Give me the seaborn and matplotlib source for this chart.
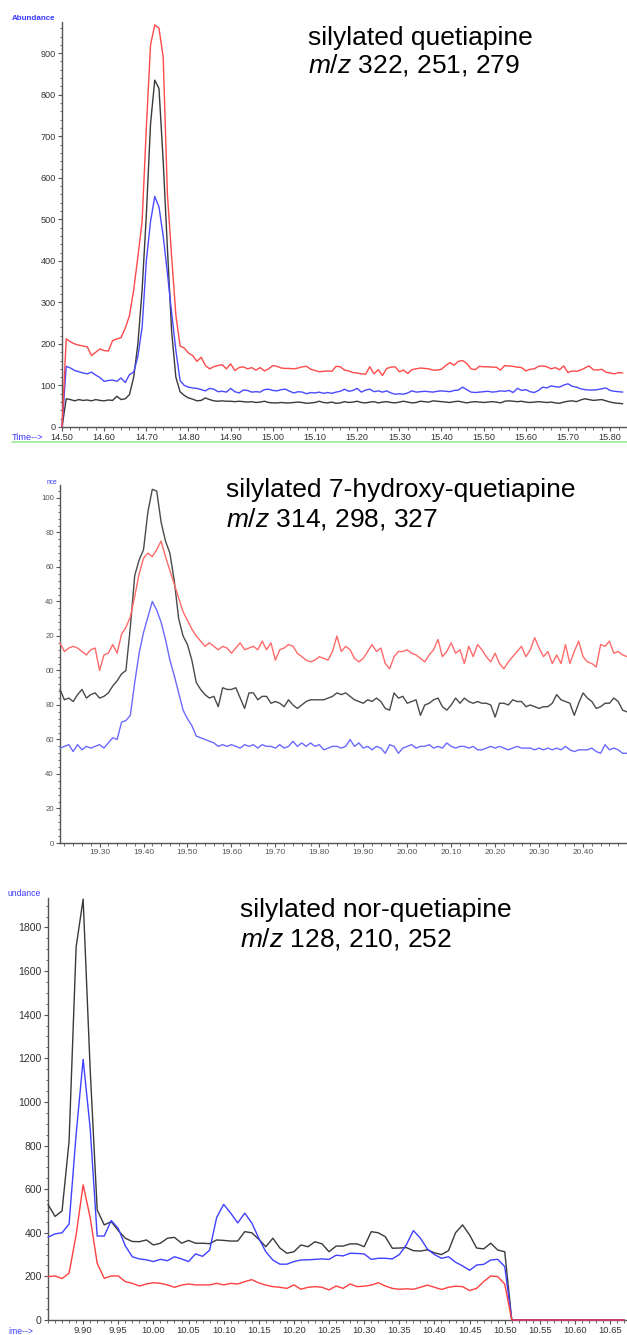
import numpy as np
import pandas as pd
import matplotlib.pyplot as plt
import matplotlib.ticker as mticker
from matplotlib.lines import Line2D
import seaborn as sns

# scans are 0.01 min apart; each list starts at the *_START time

# silylated quetiapine, m/z 322, 251, 279
Q_START = 14.50
q_red = [
    0, 212, 205, 200, 197, 195, 193, 172, 180, 188,
    184, 183, 208, 212, 215, 238, 268, 330, 410, 495,
    720, 920, 968, 960, 890, 560, 410, 270, 195, 190,
    178, 172, 158, 168, 148, 140, 145, 148, 150, 140,
    152, 136, 143, 145, 140, 143, 137, 143, 135, 140,
    148, 146, 142, 141, 141, 140, 142, 145, 146, 139,
    136, 133, 134, 135, 134, 146, 145, 137, 135, 131,
    130, 128, 127, 145, 128, 138, 124, 141, 144, 145,
    133, 137, 129, 138, 140, 142, 141, 140, 137, 137,
    139, 148, 155, 149, 158, 160, 153, 140, 138, 146,
    145, 145, 144, 144, 137, 148, 147, 146, 144, 143,
    135, 139, 140, 146, 147, 145, 140, 143, 138, 147,
    131, 135, 134, 137, 142, 147, 138, 137, 139, 132,
    130, 128, 131, 130,
]
q_blue = [
    0, 146, 142, 136, 133, 130, 128, 132, 125, 119,
    110, 112, 113, 110, 118, 107, 126, 132, 170, 240,
    400, 495, 555, 530, 460, 370, 275, 185, 112, 100,
    96, 94, 93, 90, 87, 93, 91, 85, 86, 84,
    93, 85, 82, 89, 88, 84, 85, 84, 90, 91,
    88, 87, 90, 91, 86, 82, 85, 84, 80, 83,
    82, 84, 81, 83, 81, 84, 86, 91, 86, 88,
    93, 84, 89, 91, 85, 87, 84, 87, 82, 79,
    80, 79, 82, 87, 84, 85, 86, 85, 84, 86,
    87, 86, 85, 88, 89, 96, 90, 84, 83, 84,
    85, 86, 84, 85, 87, 86, 88, 83, 93, 88,
    90, 85, 83, 88, 96, 94, 99, 97, 96, 101,
    104, 98, 96, 92, 90, 89, 89, 90, 92, 94,
    88, 86, 85, 84,
]
q_black = [
    0, 68, 66, 63, 66, 64, 65, 63, 66, 64,
    63, 65, 64, 74, 66, 68, 78, 120, 200, 330,
    510, 730, 835, 815, 640, 430, 230, 120, 85, 76,
    70, 67, 63, 64, 70, 66, 63, 62, 63, 62,
    62, 61, 62, 61, 60, 61, 59, 60, 62, 59,
    58, 58, 59, 58, 58, 59, 60, 59, 57, 58,
    59, 62, 59, 58, 60, 57, 58, 61, 59, 60,
    62, 59, 58, 60, 61, 58, 60, 61, 59, 58,
    60, 62, 60, 58, 59, 62, 61, 60, 63, 62,
    61, 60, 59, 61, 62, 60, 58, 60, 61, 60,
    59, 60, 61, 60, 58, 62, 63, 62, 61, 62,
    60, 59, 60, 61, 60, 59, 60, 58, 57, 60,
    62, 63, 61, 65, 68, 66, 64, 65, 66, 63,
    60, 58, 57, 56,
]

# silylated 7-hydroxy-quetiapine, m/z 314, 298, 327
H_START = 19.21
h_red = [
    116, 111, 113, 114, 113, 111, 109, 112, 113, 100,
    109, 110, 115, 110, 121, 125, 131, 143, 156, 165,
    168, 166, 170, 175, 166, 158, 150, 142, 134, 129,
    124, 120, 117, 114, 116, 114, 112, 114, 113, 110,
    113, 116, 112, 113, 114, 112, 117, 112, 116, 106,
    112, 113, 115, 114, 110, 108, 106, 105, 106, 108,
    107, 106, 111, 120, 111, 114, 112, 107, 105, 107,
    111, 115, 111, 113, 104, 101, 108, 111, 111, 112,
    110, 109, 107, 105, 109, 112, 118, 108, 111, 116,
    110, 112, 104, 114, 108, 115, 112, 108, 105, 110,
    104, 101, 105, 108, 111, 114, 108, 112, 119, 113,
    108, 111, 104, 109, 104, 115, 104, 111, 117, 108,
    105, 104, 102, 115, 114, 117, 110, 111, 109, 108,
]
h_black = [
    89, 83, 84, 82, 86, 89, 84, 86, 87, 84,
    85, 87, 91, 94, 98, 100, 125, 155, 164, 170,
    192, 205, 204, 186, 175, 168, 152, 130, 120, 115,
    106, 93, 89, 86, 84, 85, 79, 90, 89, 89,
    90, 84, 78, 87, 87, 83, 85, 85, 81, 82,
    81, 79, 83, 80, 78, 80, 82, 83, 83, 83,
    83, 84, 85, 87, 86, 87, 85, 83, 82, 81,
    83, 82, 84, 82, 78, 77, 87, 84, 85, 81,
    82, 83, 74, 80, 81, 83, 84, 79, 77, 80,
    84, 81, 84, 82, 81, 82, 81, 81, 80, 73,
    81, 81, 80, 83, 82, 82, 79, 80, 79, 78,
    79, 79, 81, 86, 83, 82, 81, 74, 81, 87,
    84, 82, 78, 79, 81, 81, 84, 82, 77, 76,
]
h_blue = [
    55, 56, 57, 53, 57, 54, 56, 55, 56, 57,
    55, 58, 61, 60, 70, 71, 74, 93, 110, 122,
    131, 140, 135, 128, 118, 106, 97, 87, 77, 72,
    68, 62, 61, 60, 59, 58, 56, 57, 56, 57,
    56, 55, 57, 56, 57, 55, 57, 56, 56, 55,
    57, 55, 56, 59, 56, 58, 56, 58, 56, 57,
    54, 55, 56, 56, 55, 56, 60, 56, 58, 55,
    56, 54, 56, 55, 52, 57, 56, 52, 55, 56,
    57, 55, 56, 56, 57, 55, 56, 55, 58, 56,
    55, 56, 56, 55, 56, 54, 54, 55, 56, 55,
    56, 55, 54, 55, 56, 55, 55, 55, 54, 55,
    54, 55, 54, 55, 54, 56, 54, 53, 54, 54,
    54, 55, 53, 52, 57, 54, 55, 54, 52, 52,
]
h_ylabels = ["0", "20", "40", "60", "80", "00", "20", "40", "60", "80", "100"]

# silylated nor-quetiapine, m/z 128, 210, 252
N_START = 9.85
n_black = [
    530, 475, 500, 820, 1710, 1930, 1150, 505, 436, 451,
    410, 375, 360, 359, 367, 344, 352, 375, 379, 352,
    365, 352, 352, 350, 367, 365, 362, 362, 405, 400,
    370, 336, 375, 330, 306, 313, 344, 336, 359, 349,
    313, 339, 339, 349, 349, 336, 405, 400, 382, 329,
    330, 332, 318, 316, 322, 308, 300, 318, 400, 436,
    390, 330, 326, 352, 321, 313, 0, 0, 0, 0,
    0, 0, 0, 0, 0, 0, 0, 0, 0, 0,
    0, 0, 0,
]
n_blue = [
    380, 395, 400, 440, 850, 1195, 880, 385, 385, 456,
    420, 340, 290, 280, 276, 268, 278, 272, 290, 280,
    268, 303, 292, 320, 470, 530, 490, 445, 490, 445,
    375, 313, 275, 256, 256, 268, 275, 276, 278, 280,
    278, 297, 294, 306, 305, 303, 278, 283, 283, 280,
    300, 345, 410, 375, 325, 300, 283, 290, 265, 248,
    228, 252, 255, 275, 278, 245, 0, 0, 0, 0,
    0, 0, 0, 0, 0, 0, 0, 0, 0, 0,
    0, 0, 0,
]
n_red = [
    199, 202, 190, 215, 390, 620, 470, 260, 191, 202,
    202, 176, 168, 156, 165, 171, 168, 161, 150, 160,
    165, 161, 161, 161, 168, 161, 168, 165, 176, 185,
    170, 160, 153, 150, 145, 161, 141, 150, 153, 150,
    138, 156, 145, 165, 153, 155, 160, 171, 156, 145,
    141, 143, 141, 150, 160, 150, 140, 150, 155, 153,
    135, 145, 176, 202, 199, 165, 0, 0, 0, 0,
    0, 0, 0, 0, 0, 0, 0, 0, 0, 0,
    0, 0, 0,
]

W, H = 627, 1335
FONT = "Liberation Sans"
LABEL_BLUE = "#3a3aff"


def to_frame(start, series):
    parts = []
    for ion, vals in series.items():
        t = np.round(start + 0.01 * np.arange(len(vals)), 3)
        parts.append(pd.DataFrame({"time": t, "abundance": vals, "ion": ion}))
    return pd.concat(parts, ignore_index=True)


def px_axes(fig, left, top, right, bottom):
    return fig.add_axes([left / W, 1 - bottom / H, (right - left) / W, (bottom - top) / H])


def draw_panel(ax, df, palette, xlim, ylim, xticks, yticks, minor_x, minor_y,
               xsize, ysize, tickcolor="#333333", lw=1.0):
    sns.lineplot(data=df, x="time", y="abundance", hue="ion",
                 hue_order=["black", "blue", "red"], palette=palette,
                 estimator=None, sort=False, legend=False, linewidth=lw, ax=ax)
    for ln in ax.lines:
        ln.set_clip_on(False)
        ln.set_zorder(3)
    ax.set_xlim(*xlim)
    ax.set_ylim(*ylim)
    ax.set_xticks(xticks)
    ax.set_xticklabels([f"{v:.2f}" for v in xticks])
    ax.set_yticks(yticks)
    ax.xaxis.set_minor_locator(mticker.AutoMinorLocator(minor_x))
    ax.yaxis.set_minor_locator(mticker.AutoMinorLocator(minor_y))
    ax.set_xlabel("")
    ax.set_ylabel("")
    sns.despine(ax=ax)
    for s in ("left", "bottom"):
        ax.spines[s].set_color("#555555")
        ax.spines[s].set_linewidth(1.0)
    ax.tick_params(axis="both", which="major", length=3, width=0.8,
                   color="#555555", labelcolor=tickcolor, pad=1.5)
    ax.tick_params(axis="both", which="minor", length=1.8, width=0.6, color="#555555")
    ax.tick_params(axis="x", labelsize=xsize)
    ax.tick_params(axis="y", labelsize=ysize)
    ax.set_facecolor("white")


def main():
    sns.set_theme(style="ticks")
    plt.rcParams["font.family"] = [FONT, "DejaVu Sans"]
    plt.rcParams["mathtext.fontset"] = "custom"
    plt.rcParams["mathtext.rm"] = FONT
    plt.rcParams["mathtext.it"] = FONT + ":italic"

    fig = plt.figure(figsize=(W / 100, H / 100), dpi=100)
    fig.patch.set_facecolor("white")

    # top panel
    ax1 = px_axes(fig, 62, 22, 627, 427)
    df1 = to_frame(Q_START, {"red": q_red, "blue": q_blue, "black": q_black})
    draw_panel(ax1, df1, {"red": "#ff4a4a", "blue": "#4a4aff", "black": "#3a3a3a"},
               (14.50, 15.84), (0, 975),
               [round(14.5 + 0.1 * i, 2) for i in range(14)],
               list(range(0, 1000, 100)), 5, 5, 6.6, 6.6)
    fig.text(12 / W, 1 - 18 / H, "Abundance", color=LABEL_BLUE, fontsize=5.8,
             fontweight="bold", va="center", ha="left")
    fig.text(12 / W, 1 - 437 / H, "Time-->", color=LABEL_BLUE, fontsize=6.6,
             va="center", ha="left")
    fig.add_artist(Line2D([12 / W, 1], [1 - 442 / H, 1 - 442 / H],
                          color="#9be89b", lw=1.2, transform=fig.transFigure))
    fig.text(308 / W, 1 - 45 / H, "silylated quetiapine", fontsize=19, color="black")
    fig.text(308 / W, 1 - 72 / H, r"$\mathit{m/z}$ 322, 251, 279", fontsize=19, color="black")

    # middle panel
    ax2 = px_axes(fig, 60, 485, 627, 843)
    df2 = to_frame(H_START, {"red": h_red, "blue": h_blue, "black": h_black})
    draw_panel(ax2, df2, {"red": "#ff6a6a", "blue": "#6a6aff", "black": "#4a4a4a"},
               (19.21, 20.50), (0, 207.5),
               [round(19.3 + 0.1 * i, 2) for i in range(12)],
               list(range(0, 201, 20)), 5, 5, 6.0, 5.6, tickcolor="#555555")
    ax2.set_yticklabels(h_ylabels)
    fig.text(47 / W, 1 - 482 / H, "nce", color=LABEL_BLUE, fontsize=4.8, va="center")
    fig.text(226 / W, 1 - 497 / H, "silylated 7-hydroxy-quetiapine", fontsize=19, color="black")
    fig.text(226 / W, 1 - 526 / H, r"$\mathit{m/z}$ 314, 298, 327", fontsize=19, color="black")

    # bottom panel
    ax3 = px_axes(fig, 48, 898, 627, 1320)
    df3 = to_frame(N_START, {"red": n_red, "blue": n_blue, "black": n_black})
    draw_panel(ax3, df3, {"red": "#ff4040", "blue": "#4040ff", "black": "#3a3a3a"},
               (9.85, 10.674), (0, 1935),
               [round(9.9 + 0.05 * i, 2) for i in range(16)],
               list(range(0, 1801, 200)), 5, 4, 6.8, 7.6)
    fig.text(8 / W, 1 - 894 / H, "undance", color=LABEL_BLUE, fontsize=6.2, va="center")
    fig.text(8 / W, 1 - 1331 / H, "ime-->", color=LABEL_BLUE, fontsize=6.2, va="center")
    fig.text(240 / W, 1 - 917 / H, "silylated nor-quetiapine", fontsize=19, color="black")
    fig.text(240 / W, 1 - 946 / H, r"$\mathit{m/z}$ 128, 210, 252", fontsize=19, color="black")

    fig.savefig("out.png", dpi=100, facecolor="white")


if __name__ == "__main__":
    main()
